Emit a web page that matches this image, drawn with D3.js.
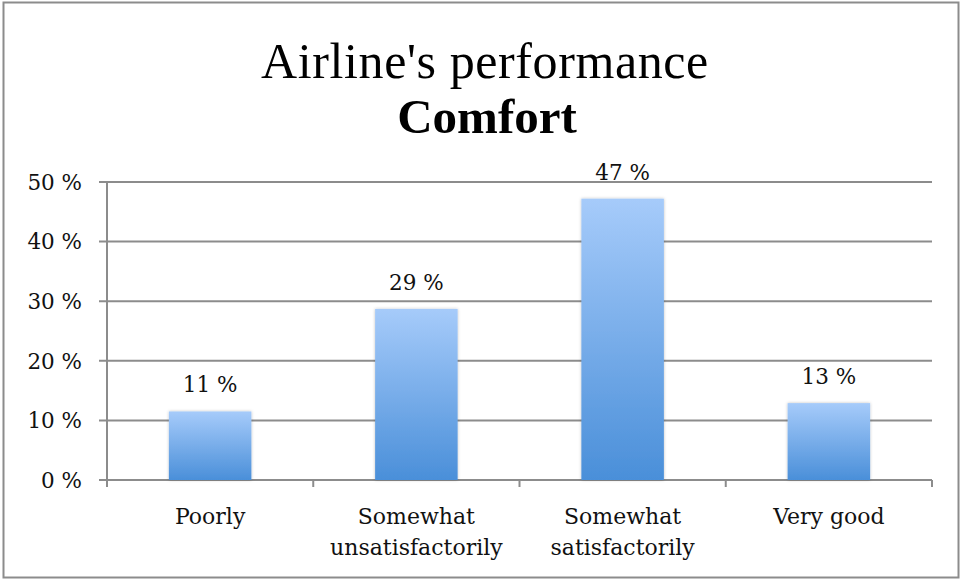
<!DOCTYPE html>
<html><head><meta charset="utf-8">
<script src="https://cdn.jsdelivr.net/npm/d3@7"></script>
<style>body{margin:0;background:#fff}svg{display:block}</style>
</head><body>
<script>
const categories = [["Poorly"], ["Somewhat", "unsatisfactorily"], ["Somewhat", "satisfactorily"], ["Very good"]];
const values = [11.5, 28.7, 47.2, 12.9];
const valueLabels = ["11 %", "29 %", "47 %", "13 %"];
const yTicks = [0, 10, 20, 30, 40, 50];
const titleLine1 = "Airline's performance";
const titleLine2 = "Comfort";

const W = 963, H = 580;
const svg = d3.select("body").append("svg").attr("width", W).attr("height", H);
const font = "'DejaVu Serif', 'Liberation Serif', serif";
const tfont = "'Liberation Serif', 'DejaVu Serif', serif";

const defs = svg.append("defs");
const g = defs.append("linearGradient").attr("id", "barg").attr("x1", 0).attr("y1", 0).attr("x2", 0).attr("y2", 1);
g.append("stop").attr("offset", "0%").attr("stop-color", "#a6cbfa");
g.append("stop").attr("offset", "100%").attr("stop-color", "#4a8fd9");
const f = defs.append("filter").attr("id", "sh").attr("x", "-20%").attr("y", "-20%").attr("width", "140%").attr("height", "140%");
f.append("feDropShadow").attr("dx", 0).attr("dy", 0).attr("stdDeviation", 1.5).attr("flood-color", "#000").attr("flood-opacity", 0.25);

svg.append("rect").attr("x", 3.5).attr("y", 2.5).attr("width", 955).attr("height", 575)
  .attr("fill", "#fff").attr("stroke", "#8c8c8c").attr("stroke-width", 2);

const x0 = 107, x1 = 932, yTop = 182, yBot = 480;
const x = d3.scaleBand().domain(d3.range(categories.length)).range([x0, x1]).paddingInner(0.6).paddingOuter(0.3);
const xb = d3.scaleBand().domain(d3.range(categories.length)).range([x0, x1]);
const y = d3.scaleLinear().domain([0, 50]).range([yBot, yTop]);

// gridlines
svg.append("g").selectAll("line").data(yTicks).join("line")
  .attr("x1", 99).attr("x2", x1).attr("y1", d => y(d)).attr("y2", d => y(d))
  .attr("stroke", "#8c8c8c").attr("stroke-width", 2);

// y axis line
svg.append("line").attr("x1", x0).attr("x2", x0).attr("y1", yTop).attr("y2", yBot + 7)
  .attr("stroke", "#8c8c8c").attr("stroke-width", 2);

// x category ticks
const xt = d3.range(categories.length + 1).map(i => i < categories.length ? xb(i) : x1);
svg.append("g").selectAll("line").data(xt.slice(1)).join("line")
  .attr("x1", d => d).attr("x2", d => d).attr("y1", yBot).attr("y2", yBot + 7)
  .attr("stroke", "#8c8c8c").attr("stroke-width", 2);

// y labels
svg.append("g").selectAll("text").data(yTicks).join("text")
  .attr("x", 82).attr("y", d => y(d)).attr("dy", "0.36em").attr("text-anchor", "end")
  .attr("font-family", font).attr("font-size", 21.5).attr("fill", "#111")
  .text(d => d + " %");

// bars
svg.append("g").selectAll("rect").data(values).join("rect")
  .attr("x", (d, i) => x(i)).attr("width", x.bandwidth())
  .attr("y", d => y(d)).attr("height", d => yBot - y(d))
  .attr("fill", "url(#barg)").attr("filter", "url(#sh)");

// value labels
svg.append("g").selectAll("text").data(values).join("text")
  .attr("x", (d, i) => x(i) + x.bandwidth() / 2).attr("y", d => y(d) - 19)
  .attr("text-anchor", "middle").attr("font-family", font).attr("font-size", 21.5).attr("fill", "#111")
  .text((d, i) => valueLabels[i]);

// category labels
const cl = svg.append("g").selectAll("text").data(categories).join("text")
  .attr("x", (d, i) => xb(i) + xb.bandwidth() / 2).attr("y", 524)
  .attr("text-anchor", "middle").attr("font-family", font).attr("font-size", 22).attr("fill", "#111");
cl.selectAll("tspan").data(d => d).join("tspan")
  .attr("x", function() { return d3.select(this.parentNode).attr("x"); })
  .attr("dy", (d, i) => i === 0 ? 0 : 31).text(d => d);

// title
svg.append("text").attr("x", 485).attr("y", 78).attr("text-anchor", "middle")
  .attr("font-family", tfont).attr("font-size", 50).attr("letter-spacing", 0.6).attr("fill", "#000").text(titleLine1);
svg.append("text").attr("x", 487).attr("y", 133).attr("text-anchor", "middle")
  .attr("font-family", tfont).attr("font-weight", "bold").attr("font-size", 49).attr("fill", "#000").text(titleLine2);
</script>
</body></html>
